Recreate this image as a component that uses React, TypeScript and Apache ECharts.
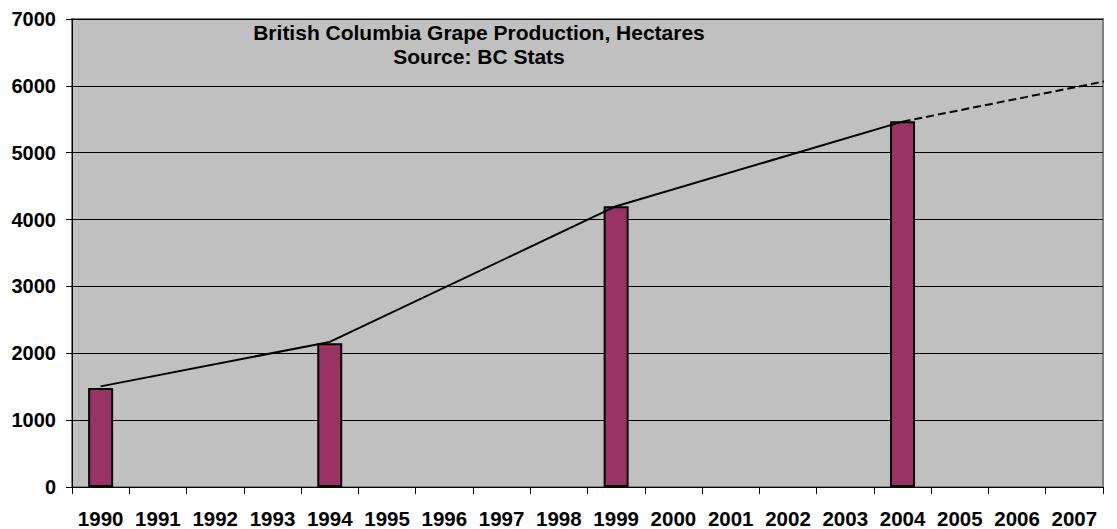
import React, { useEffect, useRef } from "react";
import * as echarts from "echarts";

const years = ["1990","1991","1992","1993","1994","1995","1996","1997","1998","1999","2000","2001","2002","2003","2004","2005","2006","2007"];
const hectares: (number | null)[] = [1480,null,null,null,2150,null,null,null,null,4200,null,null,null,null,5470,null,null,null];
const trendLine: [number, number][] = [[0,1505],[4,2170],[9,4200],[14,5465]];
const trendProjection: [number, number][] = [[14,5465],[17.75,6105]];
const titleLines = ["British Columbia Grape Production, Hectares", "Source: BC Stats"];

const FONT = "'Liberation Sans', Arial, sans-serif";

export default function App() {
  const ref = useRef<HTMLDivElement>(null);
  useEffect(() => {
    const chart = echarts.init(ref.current!, undefined, { renderer: "svg" });
    chart.setOption({
      animation: false,
      backgroundColor: "#ffffff",
      textStyle: { fontFamily: FONT },
      grid: { left: 72, right: 14, top: 19, bottom: 41, show: true, backgroundColor: "#C0C0C0", borderColor: "#808080", borderWidth: 2 },
      graphic: [
        {
          type: "text",
          x: 479,
          y: 20,
          style: {
            text: titleLines.join("\n"),
            align: "center",
            fontFamily: FONT,
            fontWeight: "bold",
            fontSize: 21,
            lineHeight: 24,
            fill: "#000",
          },
        },
      ],
      xAxis: [
        {
          type: "category",
          data: years,
          boundaryGap: true,
          axisLine: { show: true, lineStyle: { color: "#000", width: 1 } },
          axisTick: { show: true, alignWithLabel: false, length: 7, lineStyle: { color: "#000" } },
          axisLabel: { color: "#000", fontWeight: "bold", fontSize: 20.5, margin: 21, fontFamily: FONT, interval: 0 },
          splitLine: { show: false },
        },
        {
          type: "value",
          min: -0.5,
          max: 17.5,
          show: false,
        },
      ],
      yAxis: {
        type: "value",
        min: 0,
        max: 7000,
        interval: 1000,
        axisLine: { show: true, onZero: false, lineStyle: { color: "#000", width: 1 } },
        axisTick: { show: true, length: 6, lineStyle: { color: "#000" } },
        axisLabel: { color: "#000", fontWeight: "bold", fontSize: 20, margin: 16, fontFamily: FONT, formatter: (v: number) => String(v) },
        splitLine: { show: true, lineStyle: { color: "#000", width: 1 } },
      },
      series: [
        {
          type: "bar",
          data: hectares,
          barWidth: 25,
          itemStyle: { color: "#993366", borderColor: "#000", borderWidth: 2 },
        },
        {
          type: "line",
          xAxisIndex: 1,
          data: trendLine,
          symbol: "none",
          lineStyle: { color: "#000", width: 2 },
          z: 5,
        },
        {
          type: "line",
          xAxisIndex: 1,
          data: trendProjection,
          symbol: "none",
          clip: false,
          lineStyle: { color: "#000", width: 2, type: [8, 4] },
          z: 5,
        },
      ],
    });
    return () => chart.dispose();
  }, []);
  return <div ref={ref} style={{ position: "fixed", left: 0, top: 0, width: 1117, height: 529 }} />;
}
